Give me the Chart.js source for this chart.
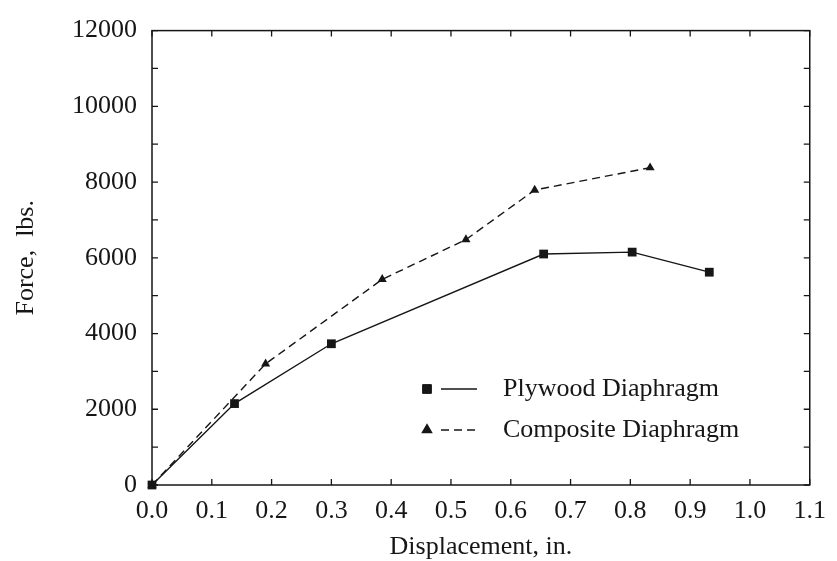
<!DOCTYPE html>
<html>
<head>
<meta charset="utf-8">
<script src="https://cdn.jsdelivr.net/npm/chart.js@4.4.1/dist/chart.umd.min.js"></script>
<style>
  body { margin: 0; background: #fff; }
  #wrap { width: 837px; height: 561px; }
</style>
</head>
<body>
<div id="wrap"><canvas id="grafico" width="837" height="561"></canvas></div>
<script>
// datos
const desplazamientoPlywood = [0, 0.138, 0.30, 0.655, 0.803, 0.932];
const fuerzaPlywood = [0, 2150, 3730, 6100, 6150, 5620];
const desplazamientoComposite = [0, 0.19, 0.385, 0.525, 0.640, 0.833];
const fuerzaComposite = [0, 3200, 5430, 6480, 7790, 8380];
const etiquetasSeries = ['Plywood Diaphragm', 'Composite Diaphragm'];
const tituloX = 'Displacement, in.';
const tituloY = 'Force,  lbs.';

const tinta = '#161616';
Chart.defaults.font.family = '"Liberation Serif", "Times New Roman", serif';
Chart.defaults.color = tinta;

function aPuntos(xs, ys) {
  return xs.map((x, i) => ({ x: x, y: ys[i] }));
}

// marco con marcas hacia dentro en los cuatro lados
const marcas = {
  id: 'marcas',
  beforeDatasetsDraw: (chart) => {
    const { ctx, chartArea: { left, top, right, bottom }, scales: { x, y } } = chart;
    const largo = 6;
    ctx.save();
    ctx.strokeStyle = tinta;
    ctx.lineWidth = 1.5;
    ctx.strokeRect(left, top, right - left, bottom - top);
    ctx.lineWidth = 1.3;
    ctx.beginPath();
    x.ticks.forEach(t => {
      const px = x.getPixelForValue(t.value);
      ctx.moveTo(px, bottom); ctx.lineTo(px, bottom - largo);
      ctx.moveTo(px, top); ctx.lineTo(px, top + largo);
    });
    y.ticks.forEach(t => {
      const py = y.getPixelForValue(t.value);
      ctx.moveTo(left, py); ctx.lineTo(left + largo, py);
      ctx.moveTo(right, py); ctx.lineTo(right - largo, py);
    });
    ctx.stroke();
    ctx.restore();
  }
};

// leyenda dentro del area del grafico
const leyenda = {
  id: 'leyenda',
  afterDraw: (chart) => {
    const { ctx } = chart;
    const filas = [389, 430];
    ctx.save();
    chart.data.datasets.forEach((ds, i) => {
      const yy = filas[i];
      ctx.fillStyle = tinta;
      ctx.strokeStyle = tinta;
      Chart.helpers.drawPoint(ctx, { pointStyle: ds.pointStyle, radius: ds.pointRadius, rotation: 0, borderWidth: 1 }, 427, yy);
      ctx.beginPath();
      ctx.lineWidth = ds.borderWidth;
      ctx.setLineDash(ds.borderDash || []);
      ctx.moveTo(441, yy);
      ctx.lineTo(477, yy);
      ctx.stroke();
      ctx.setLineDash([]);
      ctx.font = '26px "Liberation Serif", "Times New Roman", serif';
      ctx.textAlign = 'left';
      ctx.textBaseline = 'middle';
      ctx.fillText(ds.label, 503, yy);
    });
    ctx.restore();
  }
};

new Chart(document.getElementById('grafico'), {
  type: 'scatter',
  data: {
    datasets: [{
      label: etiquetasSeries[0],
      data: aPuntos(desplazamientoPlywood, fuerzaPlywood),
      showLine: true,
      borderColor: tinta,
      backgroundColor: tinta,
      borderWidth: 1.4,
      pointStyle: 'rect',
      pointRadius: 6.2,
      pointBorderWidth: 0,
      clip: false
    }, {
      label: etiquetasSeries[1],
      data: aPuntos(desplazamientoComposite, fuerzaComposite),
      showLine: true,
      borderColor: tinta,
      backgroundColor: tinta,
      borderWidth: 1.4,
      borderDash: [8, 5],
      pointStyle: 'triangle',
      pointRadius: 5.3,
      pointBorderWidth: 0,
      clip: false
    }]
  },
  options: {
    responsive: false,
    animation: false,
    layout: { padding: { top: 27, right: 22, bottom: 0, left: 0 } },
    plugins: {
      legend: { display: false },
      tooltip: { enabled: false }
    },
    scales: {
      x: {
        type: 'linear',
        min: 0,
        max: 1.1,
        grid: { display: false, drawTicks: false },
        border: { display: false },
        ticks: {
          stepSize: 0.1,
          autoSkip: false,
          maxRotation: 0,
          padding: 11,
          font: { size: 26 },
          callback: (v) => v.toFixed(1)
        },
        title: { display: true, text: tituloX, font: { size: 26 }, padding: { top: 0, bottom: -2 } },
        afterFit: (scale) => { scale.height = 76; }
      },
      y: {
        type: 'linear',
        min: 0,
        max: 12000,
        grid: { display: false, drawTicks: false },
        border: { display: false },
        ticks: {
          stepSize: 1000,
          autoSkip: false,
          padding: 15,
          font: { size: 26 },
          callback: (v) => (v % 2000 === 0 ? String(v) : '')
        },
        title: { display: true, text: tituloY, font: { size: 26 }, padding: { top: 11, bottom: 0 } },
        afterFit: (scale) => { scale.width = 152; }
      }
    }
  },
  plugins: [marcas, leyenda]
});
</script>
</body>
</html>
